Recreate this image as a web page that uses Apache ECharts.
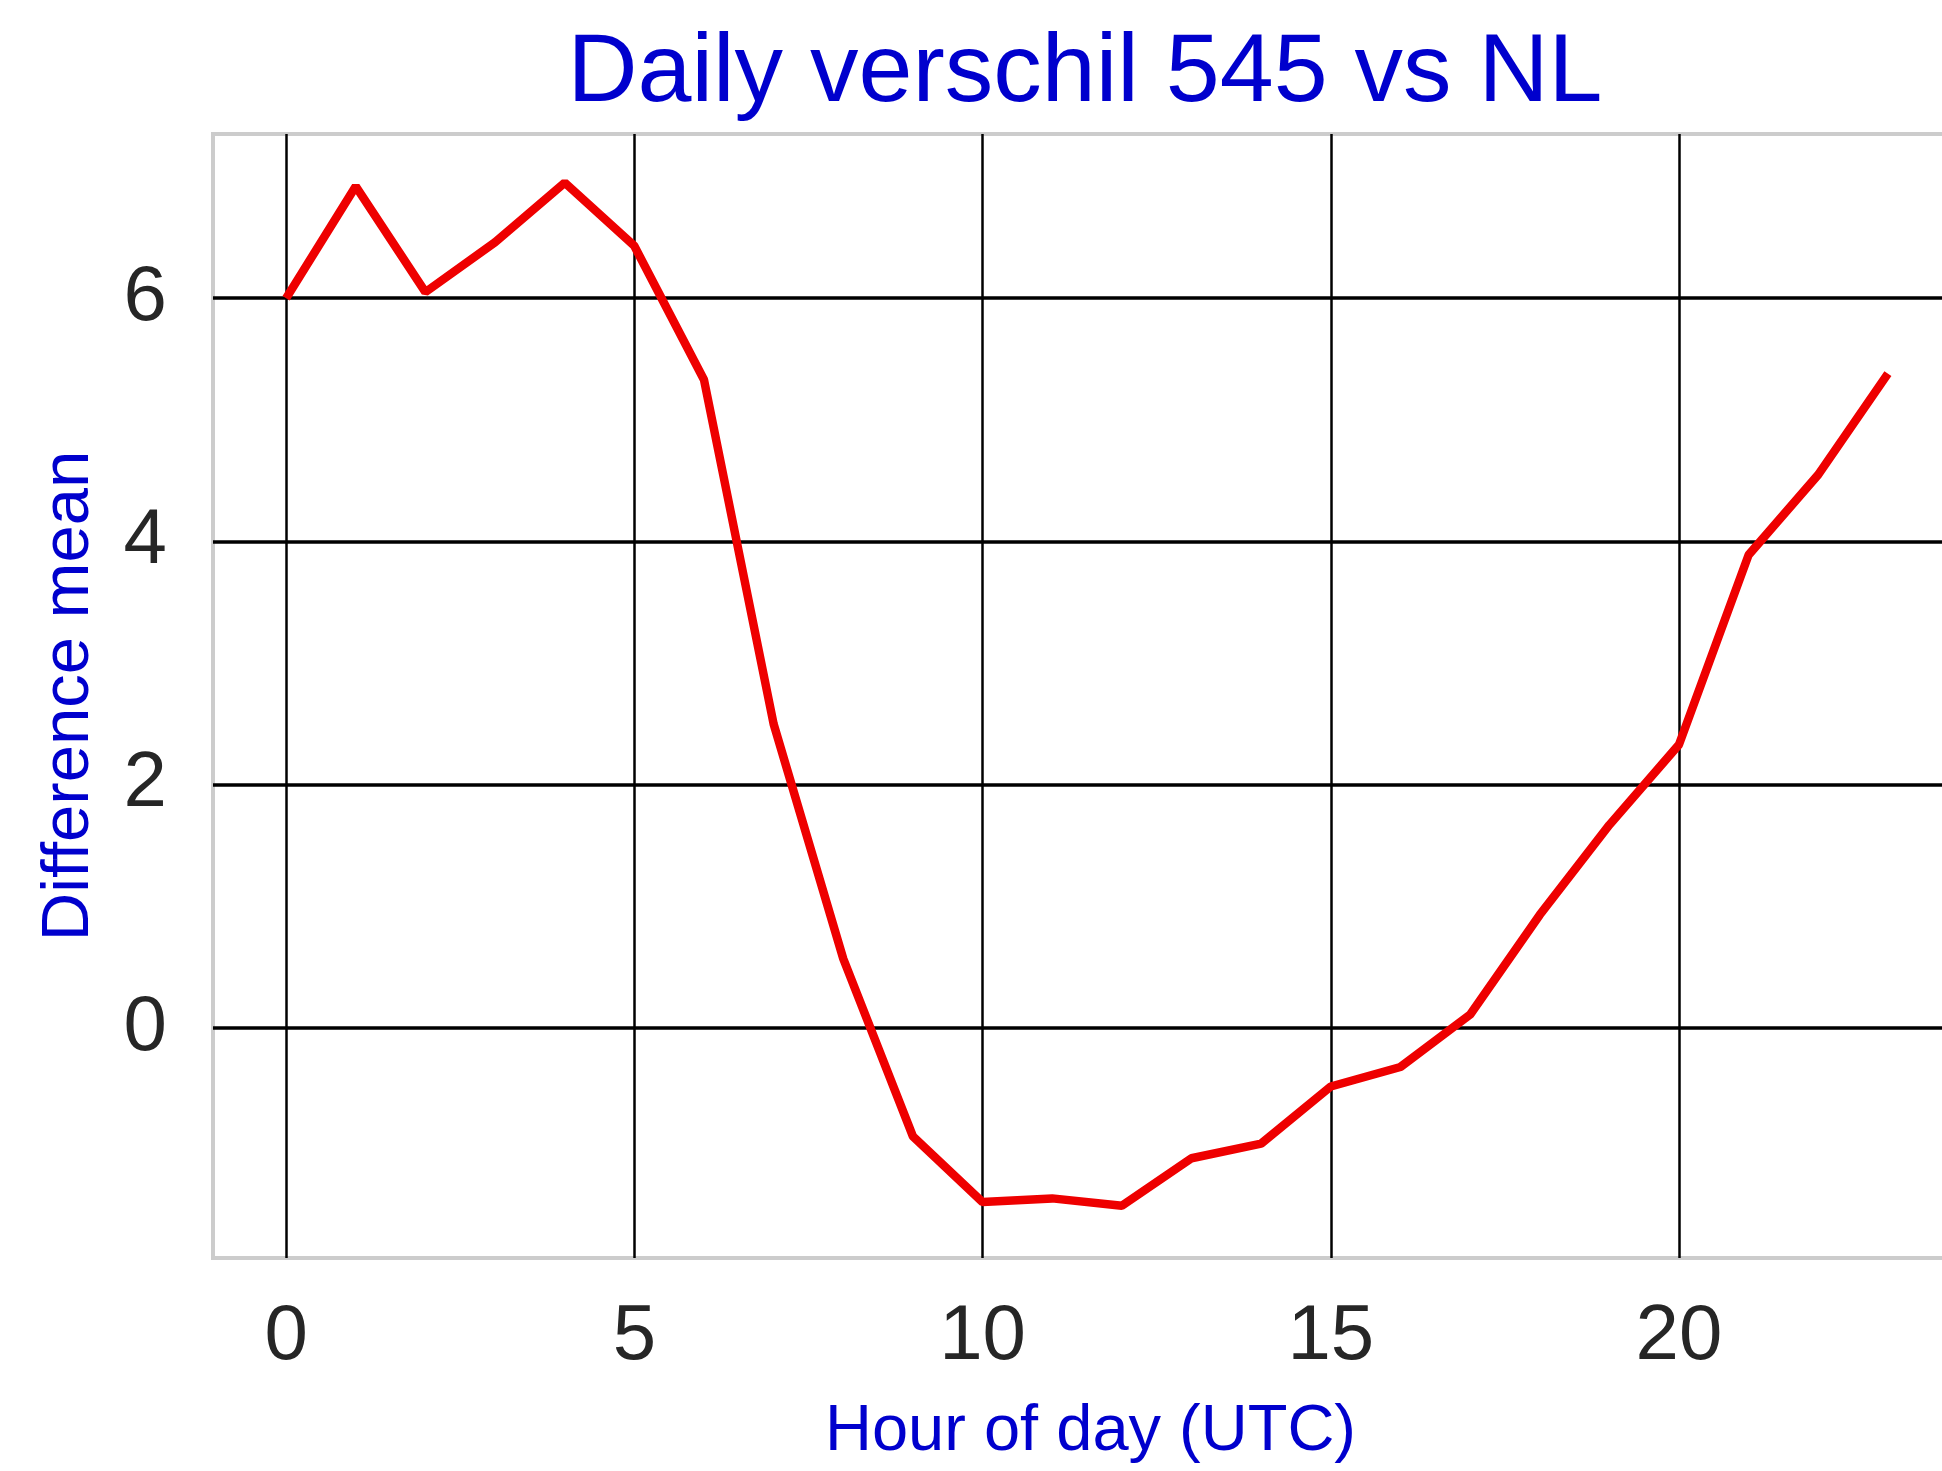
<!DOCTYPE html>
<html>
<head>
<meta charset="utf-8">
<script src="https://cdn.jsdelivr.net/npm/echarts@6/dist/echarts.min.js"></script>
<style>
  html, body { margin: 0; padding: 0; background: #fff; }
  #chart { width: 1942px; height: 1471px; }
</style>
</head>
<body>
<div id="chart"></div>
<script>
// hours of day (UTC)
const hours = [0, 1, 2, 3, 4, 5, 6, 7, 8, 9, 10, 11, 12, 13, 14, 15, 16, 17, 18, 19, 20, 21, 22, 23]
// mean difference 545 vs NL
const diffMean = [6.0, 6.92, 6.05, 6.46, 6.95, 6.43, 5.33, 2.5, 0.57, -0.89, -1.43, -1.40, -1.46, -1.07, -0.95, -0.48, -0.32, 0.11, 0.93, 1.67, 2.33, 3.89, 4.55, 5.38]
const xTicks = [0, 5, 10, 15, 20]
const yTicks = [0, 2, 4, 6]

const font = "'Liberation Sans', Arial, sans-serif"
const chart = echarts.init(document.getElementById('chart'))

const option = {
  backgroundColor: '#ffffff',
  animation: false,
  title: {
    text: 'Daily verschil 545 vs NL',
    left: 1080,
    top: 21,
    textAlign: 'center',
    textStyle: { color: '#0000cd', fontSize: 97, fontWeight: 'normal', fontFamily: font }
  },
  grid: {
    left: 213,
    top: 134,
    width: 1755,
    height: 1124,
    show: true,
    borderColor: '#cccccc',
    borderWidth: 4,
    outerBoundsMode: 'none',
    containLabel: false
  },
  xAxis: {
    type: 'value',
    min: -1.05,
    max: 24.15,
    name: 'Hour of day (UTC)',
    nameLocation: 'middle',
    nameGap: 142,
    nameTextStyle: { color: '#0000cd', fontSize: 65, fontFamily: font },
    axisLine: { show: false },
    axisTick: { show: false, customValues: xTicks },
    axisLabel: { customValues: xTicks, margin: 40, color: '#262626', fontSize: 78, fontFamily: font },
    splitLine: { show: true, lineStyle: { color: '#000000', width: 2.5 } }
  },
  yAxis: {
    type: 'value',
    min: -1.89,
    max: 7.35,
    name: 'Difference mean',
    nameLocation: 'middle',
    nameGap: 110,
    nameTextStyle: { color: '#0000cd', fontSize: 67, fontFamily: font },
    axisLine: { show: false },
    axisTick: { show: false, customValues: yTicks },
    axisLabel: { customValues: yTicks, margin: 46, color: '#262626', fontSize: 78, fontFamily: font },
    splitLine: { show: true, lineStyle: { color: '#000000', width: 3.5 } }
  },
  series: [{
    type: 'line',
    data: hours.map((h, i) => [h, diffMean[i]]),
    symbol: 'none',
    lineStyle: { color: '#ee0000', width: 8.5 },
    z: 5
  }]
}

chart.setOption(option)
</script>
</body>
</html>
